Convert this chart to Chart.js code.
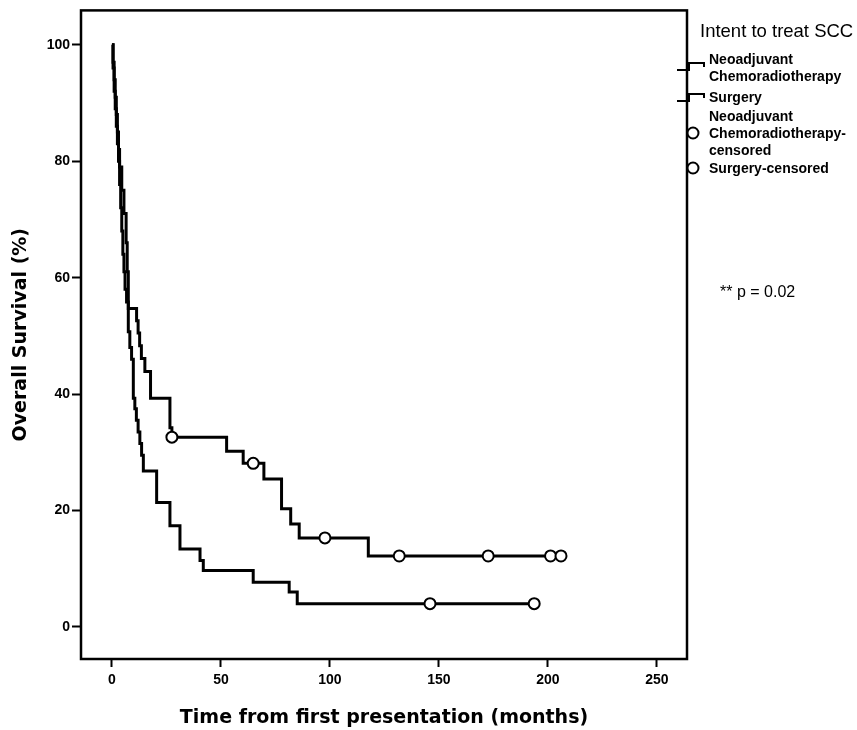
<!DOCTYPE html>
<html>
<head>
<meta charset="utf-8">
<script src="https://cdn.jsdelivr.net/npm/chart.js@4.4.1/dist/chart.umd.min.js"></script>
<style>
	html,body{margin:0;padding:0;background:#fff;}
</style>
</head>
<body>
<canvas id="km-chart" width="857" height="730"></canvas>
<script>
// survival curves (months, % surviving)
var neoTimes = [0, 0.5, 1, 1.5, 2, 2.5, 3, 3.5, 4.5, 5.5, 6.5, 7, 7.5, 11.3, 12, 12.7, 13.5, 15.1, 17.7, 26.6, 27.5, 52.6, 60.2, 69.7, 77.8, 82, 85.9, 117.6, 206];
var neoSurv  = [100, 97, 94, 91, 88, 85, 82, 79, 75, 71, 66, 61, 54.7, 52.6, 50.5, 48.3, 46.1, 43.9, 39.3, 34.2, 32.6, 30.2, 28.1, 25.4, 20.3, 17.7, 15.3, 12.2, 12.2];
var neoCensorTimes = [27.5, 64.8, 97.7, 131.8, 172.6, 201.2, 206];
var neoCensorSurv  = [32.6, 28.1, 15.3, 12.2, 12.2, 12.2, 12.2];

var surgTimes = [0, 0.5, 1, 1.5, 2, 2.5, 3, 3.5, 4, 4.5, 5, 5.5, 6, 6.7, 7.5, 8.2, 9, 9.8, 10.5, 11.2, 12, 12.8, 13.6, 14.4, 20.5, 26.6, 31.2, 40.4, 41.9, 64.8, 81.3, 85, 193.7];
var surgSurv  = [100, 96, 92, 89, 86, 83, 80, 76, 72, 68, 64, 61, 58, 55.8, 50.7, 48, 46, 39.3, 37.5, 35.5, 33.5, 31.5, 29.5, 26.8, 21.4, 17.4, 13.4, 11.4, 9.7, 7.7, 6, 4, 4];
var surgCensorTimes = [145.9, 193.7];
var surgCensorSurv  = [4, 4];

var xTicks = [0, 50, 100, 150, 200, 250];
var yTicks = [0, 20, 40, 60, 80, 100];

function toPoints(xs, ys){
	var pts = [];
	for (var i = 0; i < xs.length; i++) pts.push({x: xs[i], y: ys[i]});
	return pts;
}

// frame, legend and p-value annotation
var km_extras = {
	id: 'km_extras',
	afterDraw: function(chart){
		var ctx = chart.ctx, a = chart.chartArea;
		ctx.save();
		ctx.strokeStyle = '#000';
		ctx.lineWidth = 2.5;
		ctx.strokeRect(a.left, a.top, a.right - a.left, a.bottom - a.top);

		ctx.fillStyle = '#000';
		ctx.textBaseline = 'middle';
		ctx.font = '18.5px "Liberation Sans"';
		ctx.fillText('Intent to treat SCC', 700, 32);

		ctx.font = 'bold 14px "Liberation Sans"';
		var items = [
			{kind: 'step', y: 67, lines: ['Neoadjuvant', 'Chemoradiotherapy'], ty: 60},
			{kind: 'step', y: 98, lines: ['Surgery'], ty: 98},
			{kind: 'circle', y: 133, lines: ['Neoadjuvant', 'Chemoradiotherapy-', 'censored'], ty: 117},
			{kind: 'circle', y: 168, lines: ['Surgery-censored'], ty: 169}
		];
		items.forEach(function(it){
			ctx.lineWidth = 2;
			if (it.kind === 'step') {
				ctx.beginPath();
				ctx.moveTo(677, it.y + 3);
				ctx.lineTo(689, it.y + 3);
				ctx.lineTo(689, it.y - 4);
				ctx.lineTo(704, it.y - 4);
				ctx.lineTo(704, it.y);
				ctx.stroke();
			} else {
				ctx.beginPath();
				ctx.arc(693, it.y, 5.5, 0, Math.PI * 2);
				ctx.fillStyle = '#fff';
				ctx.fill();
				ctx.stroke();
				ctx.fillStyle = '#000';
			}
			for (var j = 0; j < it.lines.length; j++) {
				ctx.fillText(it.lines[j], 709, it.ty + j * 17);
			}
		});

		ctx.font = '16px "Liberation Sans"';
		ctx.fillText('** p = 0.02', 720, 293);
		ctx.restore();
	}
};

var tickFont = {family: '"Liberation Sans"', size: 14, weight: 'bold'};
var titleFont = {family: '"DejaVu Sans"', size: 19, weight: 'bold'};

var config = {
	type: 'scatter',
	data: {
		datasets: [
			{label: 'Neoadjuvant Chemoradiotherapy-censored', data: toPoints(neoCensorTimes, neoCensorSurv), order: 0,
				pointRadius: 5.5, pointBackgroundColor: '#fff', pointBorderColor: '#000', pointBorderWidth: 2, showLine: false},
			{label: 'Surgery-censored', data: toPoints(surgCensorTimes, surgCensorSurv), order: 0,
				pointRadius: 5.5, pointBackgroundColor: '#fff', pointBorderColor: '#000', pointBorderWidth: 2, showLine: false},
			{label: 'Neoadjuvant Chemoradiotherapy', data: toPoints(neoTimes, neoSurv), order: 1,
				showLine: true, stepped: 'before', borderColor: '#000', borderWidth: 3, pointRadius: 0, fill: false},
			{label: 'Surgery', data: toPoints(surgTimes, surgSurv), order: 1,
				showLine: true, stepped: 'before', borderColor: '#000', borderWidth: 3, pointRadius: 0, fill: false}
		]
	},
	options: {
		responsive: false,
		animation: false,
		layout: {padding: {top: 7, right: 170, bottom: 0, left: 0}},
		plugins: {
			legend: {display: false},
			tooltip: {enabled: false}
		},
		scales: {
			x: {
				type: 'linear',
				min: -14.2,
				max: 263.8,
				afterBuildTicks: function(s){ s.ticks = xTicks.map(function(v){ return {value: v}; }); },
				afterFit: function(s){ s.height = 71; },
				ticks: {font: tickFont, color: '#000', padding: 5, maxRotation: 0, autoSkip: false},
				grid: {drawOnChartArea: false, tickLength: 8, tickColor: '#000', tickWidth: 2},
				border: {display: false},
				title: {display: true, text: 'Time from first presentation (months)', font: titleFont, color: '#000', padding: {top: 0, bottom: 1}}
			},
			y: {
				type: 'linear',
				min: -5.5,
				max: 105.9,
				afterBuildTicks: function(s){ s.ticks = yTicks.map(function(v){ return {value: v}; }); },
				afterFit: function(s){ s.width = 81; },
				ticks: {font: tickFont, color: '#000', padding: 2, autoSkip: false},
				grid: {drawOnChartArea: false, tickLength: 9, tickColor: '#000', tickWidth: 2},
				border: {display: false},
				title: {display: true, text: 'Overall Survival (%)', font: titleFont, color: '#000', padding: {top: 10, bottom: 0}}
			}
		}
	},
	plugins: [km_extras]
};

var kmChart = new Chart(document.getElementById('km-chart').getContext('2d'), config);
</script>
</body>
</html>
